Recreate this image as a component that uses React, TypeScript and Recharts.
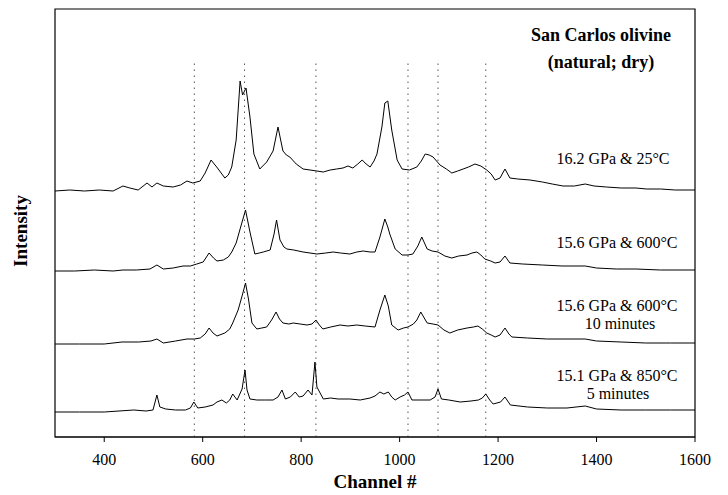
import React from "react";
import {
  LineChart,
  Line,
  XAxis,
  YAxis,
  ReferenceLine,
  ReferenceArea,
  Customized,
} from "recharts";

// Channel positions and intensities (arbitrary units above each trace's own baseline)
const trace1Ch = [300, 330, 360, 390, 418, 438, 452, 469, 487, 497, 507, 520, 540, 555, 568, 580, 595, 605, 617, 630, 645, 652, 659, 668, 676, 681, 688, 696, 704, 716, 730, 743, 753, 763, 770, 777, 790, 804, 818, 832, 845, 859, 872, 885, 895, 905, 915, 924, 932, 940, 948, 954, 964, 970, 976, 984, 995, 1005, 1020, 1035, 1044, 1052, 1060, 1068, 1082, 1095, 1106, 1118, 1129, 1140, 1153, 1165, 1177, 1186, 1194, 1204, 1214, 1224, 1240, 1265, 1290, 1310, 1332, 1355, 1377, 1395, 1420, 1450, 1480, 1502, 1530, 1560, 1600];
const trace1Val = [0, 1, 0, 1, 0, 5, 3, 1, 8, 4, 8, 5, 4, 6, 10, 8, 10, 18, 31, 23, 13, 16, 24, 51, 110, 96, 103, 74, 37, 22, 29, 40, 64, 40, 36, 34, 27, 22, 21, 20, 19, 21, 22, 23, 25, 23, 27, 31, 27, 24, 30, 37, 64, 88, 90, 61, 31, 22, 21, 24, 30, 37, 36, 34, 26, 22, 18, 20, 22, 24, 27, 25, 21, 17, 11, 13, 22, 13, 12, 11, 9, 7, 5, 5, 7, 5, 4, 3, 3, 2, 2, 1, 1];

const trace2Ch = [300, 340, 380, 418, 438, 465, 493, 507, 520, 540, 560, 575, 588, 601, 613, 622, 629, 642, 652, 659, 668, 676, 687, 696, 706, 715, 723, 737, 745, 750, 757, 765, 771, 785, 804, 818, 832, 850, 865, 880, 899, 913, 926, 940, 950, 960, 970, 976, 980, 991, 1005, 1017, 1027, 1037, 1045, 1056, 1066, 1078, 1092, 1106, 1120, 1137, 1147, 1157, 1165, 1173, 1185, 1194, 1204, 1214, 1224, 1250, 1290, 1330, 1377, 1400, 1440, 1480, 1530, 1600];
const trace2Val = [0, 0, 1, 0, 1, 1, 2, 6, 2, 3, 5, 5, 7, 9, 18, 13, 10, 11, 14, 19, 28, 42, 61, 39, 17, 18, 19, 21, 37, 51, 31, 24, 22, 21, 19, 18, 17, 18, 19, 18, 17, 19, 20, 19, 19, 34, 52, 44, 37, 22, 16, 16, 17, 25, 34, 22, 20, 19, 15, 13, 15, 16, 18, 19, 16, 12, 10, 8, 9, 15, 8, 7, 6, 5, 5, 3, 2, 2, 1, 1];

const trace3Ch = [300, 350, 400, 436, 470, 495, 507, 520, 545, 568, 583, 595, 605, 613, 621, 629, 645, 655, 661, 672, 680, 687, 693, 700, 710, 720, 730, 740, 749, 756, 763, 775, 784, 798, 812, 822, 830, 837, 844, 860, 879, 895, 913, 930, 950, 960, 970, 977, 984, 997, 1008, 1017, 1028, 1035, 1043, 1050, 1056, 1068, 1078, 1090, 1102, 1118, 1137, 1150, 1159, 1168, 1177, 1186, 1194, 1204, 1214, 1222, 1228, 1260, 1300, 1340, 1377, 1400, 1450, 1500, 1550, 1600];
const trace3Val = [0, 0, 0, 2, 2, 3, 5, 1, 3, 5, 5, 6, 10, 16, 11, 8, 11, 15, 21, 34, 48, 61, 45, 21, 15, 16, 17, 24, 32, 25, 21, 20, 21, 20, 19, 20, 24, 19, 15, 17, 19, 18, 19, 18, 17, 34, 49, 38, 19, 14, 16, 17, 20, 24, 32, 26, 21, 20, 19, 14, 11, 14, 16, 17, 18, 15, 11, 9, 7, 9, 16, 10, 7, 6, 5, 5, 5, 3, 2, 1, 1, 1];

const trace4Ch = [300, 350, 400, 430, 460, 485, 499, 507, 513, 525, 545, 565, 575, 582, 590, 605, 621, 629, 639, 648, 655, 661, 670, 680, 686, 690, 696, 710, 725, 743, 753, 761, 768, 778, 788, 796, 804, 814, 822, 828, 832, 845, 860, 875, 899, 920, 940, 950, 960, 968, 977, 984, 991, 1001, 1010, 1017, 1025, 1045, 1062, 1072, 1078, 1085, 1100, 1123, 1145, 1160, 1168, 1175, 1183, 1190, 1205, 1214, 1225, 1260, 1300, 1340, 1377, 1400, 1450, 1500, 1550, 1600];
const trace4Val = [0, 0, 0, 1, 2, 1, 2, 17, 5, 3, 2, 2, 4, 10, 4, 5, 7, 10, 12, 9, 12, 18, 12, 23, 42, 22, 13, 12, 12, 12, 15, 22, 13, 15, 20, 15, 16, 22, 17, 50, 25, 13, 14, 13, 13, 12, 14, 16, 20, 18, 20, 15, 12, 15, 17, 20, 12, 12, 12, 15, 23, 13, 12, 10, 11, 12, 14, 18, 12, 8, 10, 15, 7, 5, 4, 4, 6, 3, 2, 2, 2, 2];

// Vertical stacking offsets of each spectrum
const offsets = [246, 166, 93, 25];
const traceLabels = [
  ["16.2 GPa & 25°C"],
  ["15.6 GPa & 600°C"],
  ["15.6 GPa & 600°C", "10 minutes"],
  ["15.1 GPa & 850°C", "5 minutes"],
];
const markerChannels = [583, 685, 830, 1017, 1078, 1175];
const xTicks = [400, 600, 800, 1000, 1200, 1400, 1600];
const title = ["San Carlos olivine", "(natural; dry)"];

const build = (ch: number[], v: number[], off: number) =>
  ch.map((c, i) => ({ ch: c, y: v[i] + off }));

const series = [
  build(trace1Ch, trace1Val, offsets[0]),
  build(trace2Ch, trace2Val, offsets[1]),
  build(trace3Ch, trace3Val, offsets[2]),
  build(trace4Ch, trace4Val, offsets[3]),
];

const FONT = "'Liberation Serif', 'Times New Roman', serif";

const Annotations = () => (
  <g fontFamily={FONT} fill="#000">
    <text x={601} y={41} textAnchor="middle" fontSize={18} fontWeight="bold">{title[0]}</text>
    <text x={601} y={68} textAnchor="middle" fontSize={18} fontWeight="bold">{title[1]}</text>
    <text x={613} y={164} textAnchor="middle" fontSize={16}>{traceLabels[0][0]}</text>
    <text x={617} y={248} textAnchor="middle" fontSize={16}>{traceLabels[1][0]}</text>
    <text x={617} y={311} textAnchor="middle" fontSize={16}>{traceLabels[2][0]}</text>
    <text x={620} y={329} textAnchor="middle" fontSize={16}>{traceLabels[2][1]}</text>
    <text x={617} y={381} textAnchor="middle" fontSize={16}>{traceLabels[3][0]}</text>
    <text x={618} y={399} textAnchor="middle" fontSize={16}>{traceLabels[3][1]}</text>
    <text x={375} y={488} textAnchor="middle" fontSize={19} fontWeight="bold">Channel #</text>
    <text x={0} y={0} transform="translate(27,231) rotate(-90)" textAnchor="middle" fontSize={19} fontWeight="bold">Intensity</text>
  </g>
);

export default function App() {
  return (
    <div style={{ position: "absolute", left: 0, top: 0, width: 728, height: 495, background: "#fff" }}>
      <LineChart
        width={728}
        height={495}
        margin={{ top: 9, right: 33, bottom: 28, left: 55 }}
        style={{ fontFamily: FONT }}
      >
        <XAxis
          dataKey="ch"
          type="number"
          domain={[300, 1600]}
          ticks={xTicks}
          allowDataOverflow
          height={30}
          tickSize={5}
          tickMargin={12}
          axisLine={{ stroke: "#000", strokeWidth: 1.2 }}
          tickLine={{ stroke: "#000" }}
          tick={{ fill: "#000", fontSize: 16, fontFamily: FONT }}
        />
        <YAxis
          type="number"
          domain={[0, 428]}
          allowDataOverflow
          width={0}
          mirror
          ticks={offsets}
          tickSize={4}
          tickFormatter={() => ""}
          axisLine={false}
          tickLine={{ stroke: "#000" }}
        />
        <ReferenceArea
          x1={300}
          x2={1600}
          y1={0}
          y2={428}
          fill="none"
          stroke="#000"
          strokeWidth={1.2}
          ifOverflow="visible"
        />
        {markerChannels.map((c) => (
          <ReferenceLine
            key={c}
            segment={[{ x: c, y: 0 }, { x: c, y: 375 }]}
            stroke="#555"
            strokeWidth={1}
            strokeDasharray="1.5 4.5"
          />
        ))}
        {series.map((d, i) => (
          <Line
            key={i}
            data={d}
            dataKey="y"
            type="linear"
            stroke="#000"
            strokeWidth={1}
            dot={false}
            isAnimationActive={false}
          />
        ))}
        <Customized component={Annotations} />
      </LineChart>
    </div>
  );
}
